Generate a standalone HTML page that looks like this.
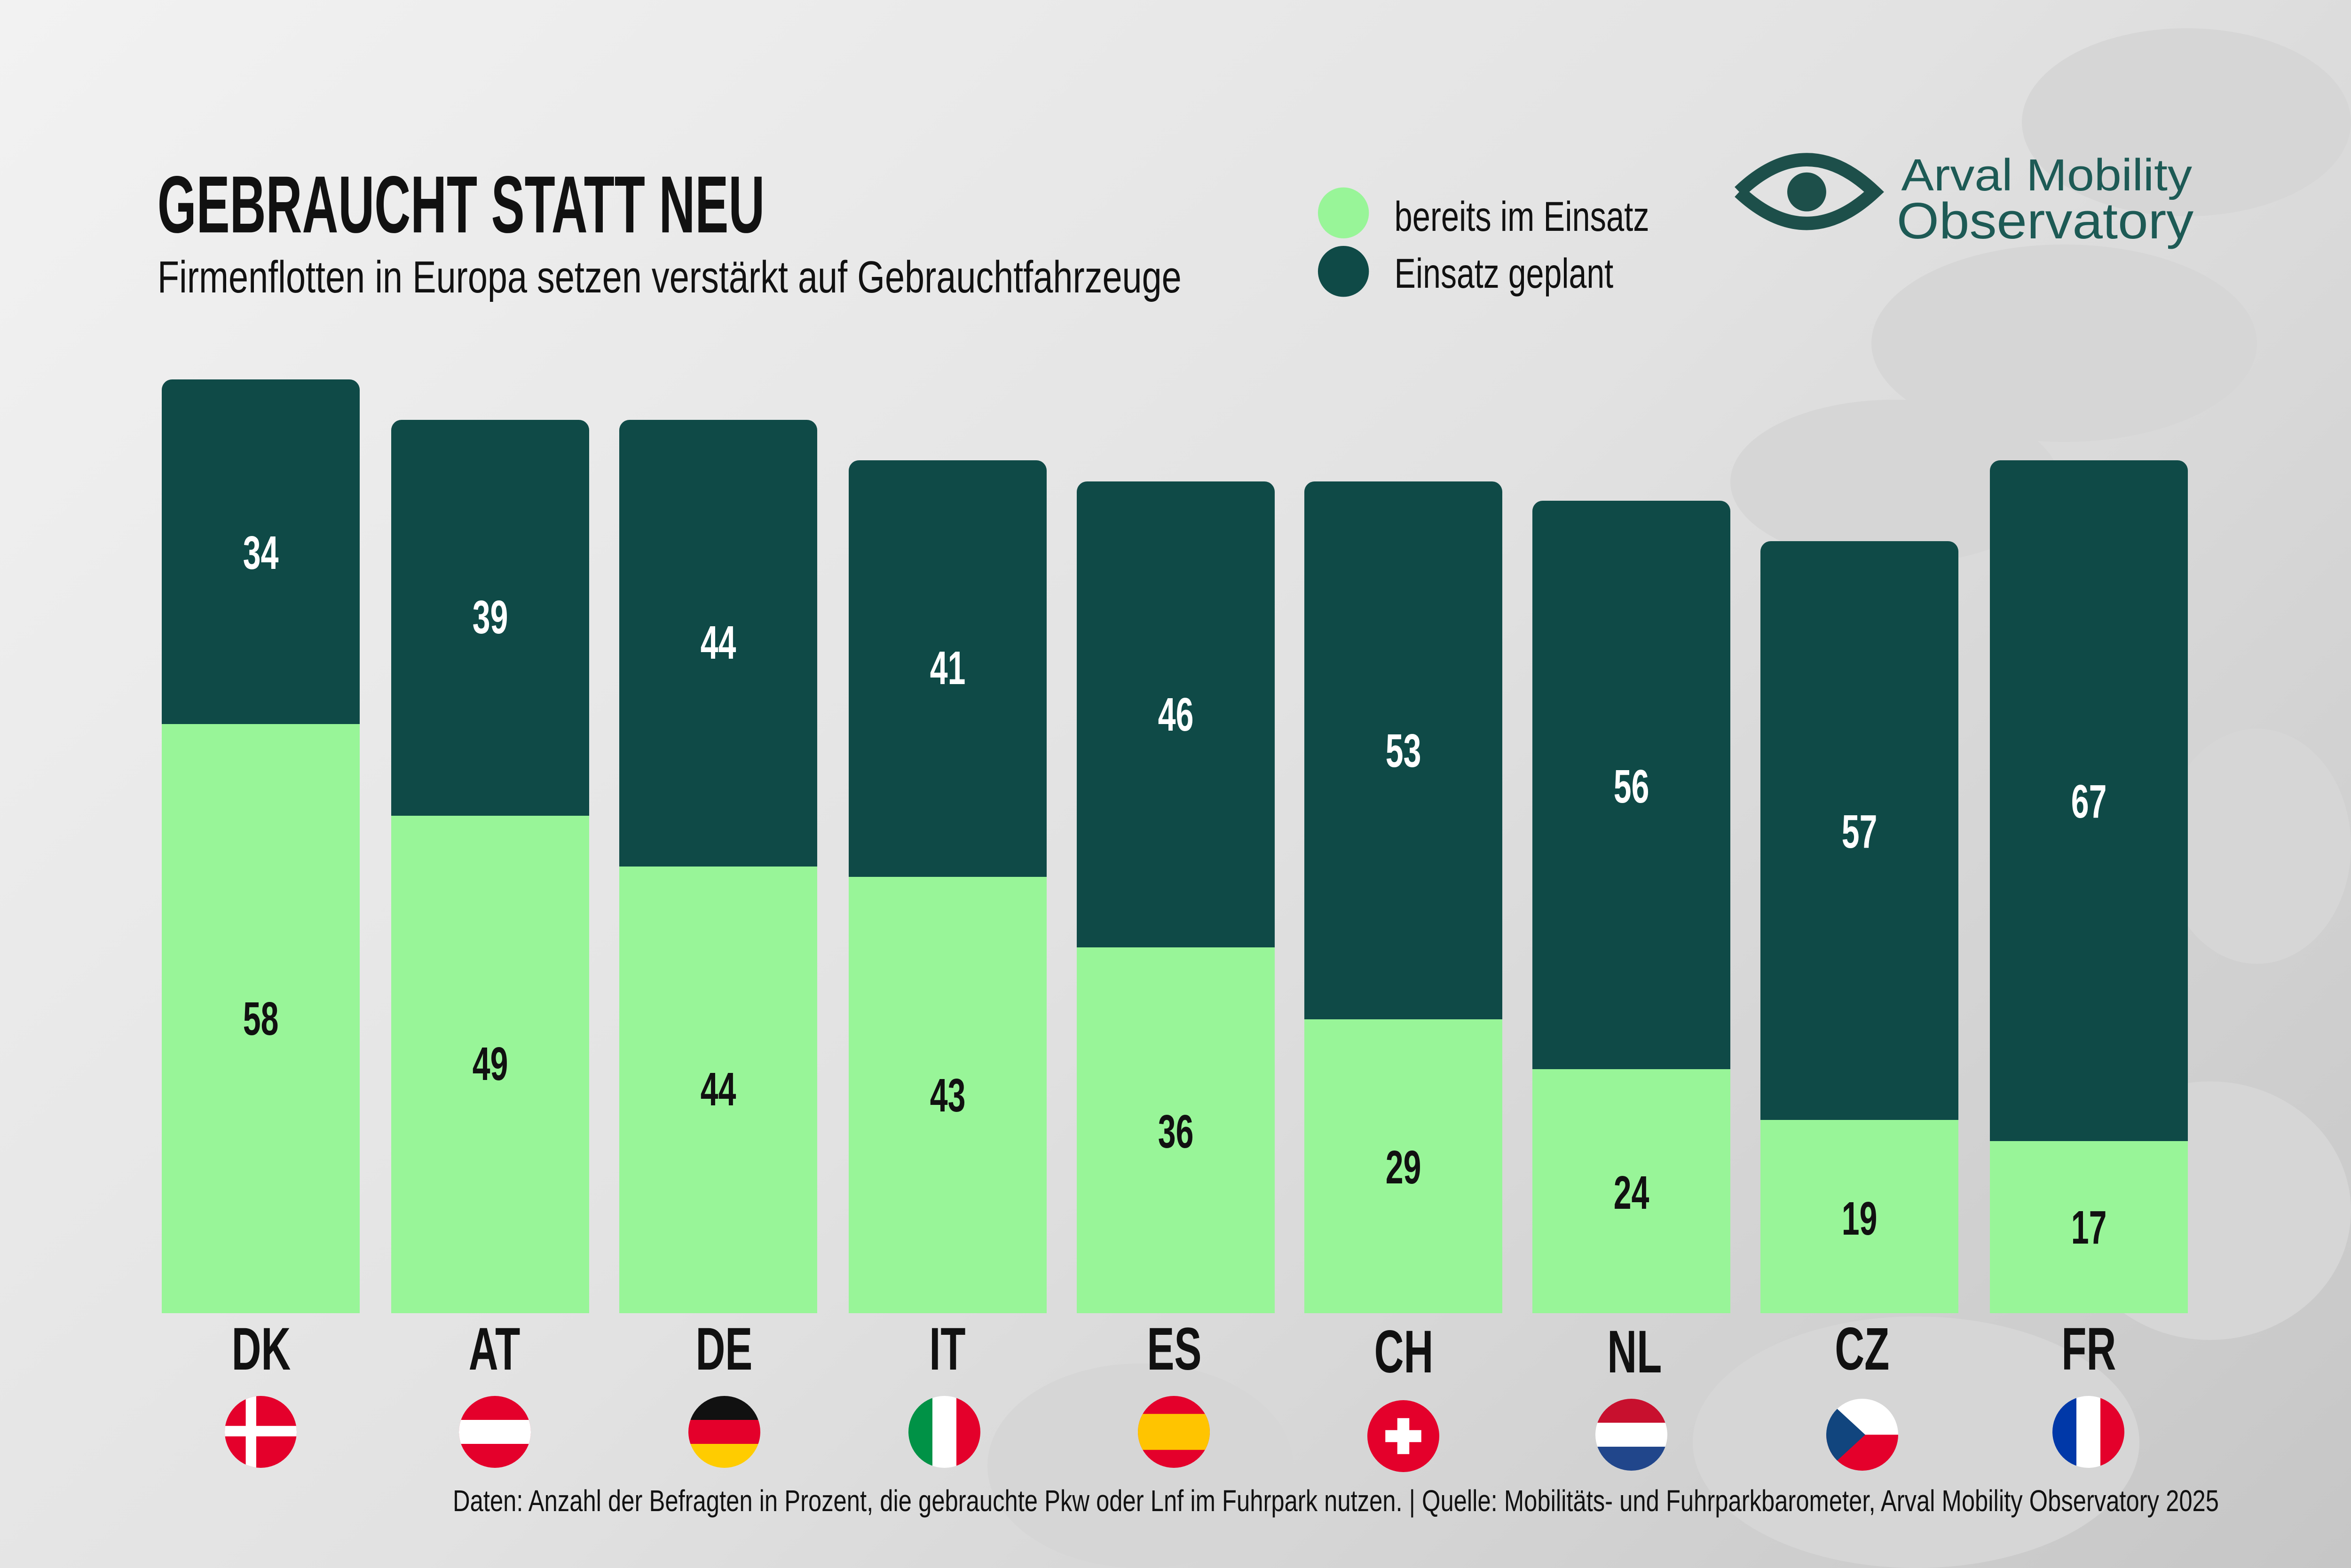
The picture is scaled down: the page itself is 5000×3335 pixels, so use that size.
<!DOCTYPE html>
<html><head><meta charset="utf-8"><style>
html,body{margin:0;padding:0;width:5000px;height:3335px;overflow:hidden}
body{position:relative;background:linear-gradient(135deg,#f2f2f2 0%,#e2e2e2 50%,#c6c6c6 100%)}
svg{display:block}
text{font-family:"Liberation Sans Narrow","Liberation Sans",sans-serif}
.e{position:absolute;background:#d6d6d6;border-radius:50%}
.d{position:absolute;background:#0f4a47;border-radius:22px 22px 0 0;width:421px}
.g{position:absolute;background:#98f598;width:421px}
.v{position:absolute;width:421px;text-align:center;font:bold 100px/1 "Liberation Sans Narrow","Liberation Sans",sans-serif}
.v span,.lab span{display:inline-block;transform:scaleX(.68)}
.w{color:#fff}.k{color:#111}
.lab{position:absolute;top:2806px;width:400px;text-align:center;font:bold 128px/1 "Liberation Sans Narrow","Liberation Sans",sans-serif;color:#111}
.fl{position:absolute;top:2969px;width:153px;height:153px}
</style></head><body>
<div class="e" style="left:4300px;top:60px;width:700px;height:400px"></div>
<div class="e" style="left:3980px;top:520px;width:820px;height:420px"></div>
<div class="e" style="left:3680px;top:850px;width:700px;height:350px"></div>
<div class="e" style="left:4600px;top:1550px;width:400px;height:500px"></div>
<div class="e" style="left:4400px;top:2300px;width:600px;height:550px"></div>
<div class="e" style="left:2100px;top:2900px;width:650px;height:435px"></div>
<div class="e" style="left:3600px;top:2800px;width:950px;height:535px"></div>

<svg style="position:absolute;left:0;top:0" width="5000" height="700" viewBox="0 0 1568 219.52">
<text x="105" y="155" font-size="54" font-weight="bold" fill="#111" textLength="405" lengthAdjust="spacingAndGlyphs">GEBRAUCHT STATT NEU</text>
<text x="105" y="195" font-size="30" fill="#111" textLength="683" lengthAdjust="spacingAndGlyphs">Firmenflotten in Europa setzen verstärkt auf Gebrauchtfahrzeuge</text>
<circle cx="896" cy="142" r="17" fill="#98f598"/>
<circle cx="896" cy="181" r="17" fill="#0f4a47"/>
<text x="930" y="154" font-size="28" fill="#111" textLength="170" lengthAdjust="spacingAndGlyphs">bereits im Einsatz</text>
<text x="930" y="192" font-size="28" fill="#111" textLength="146" lengthAdjust="spacingAndGlyphs">Einsatz geplant</text>
<path d="M1160 128 Q1205 85 1250 128 Q1205 170 1160 128" fill="none" stroke="#1d4f4a" stroke-width="9"/>
<circle cx="1205" cy="128" r="13" fill="#1d4f4a"/>
<text x="1268" y="127" font-size="30" fill="#1d5a55" font-family="Liberation Sans" textLength="194" lengthAdjust="spacingAndGlyphs">Arval Mobility</text>
<text x="1265" y="159" font-size="34" fill="#1d5a55" font-family="Liberation Sans" textLength="198" lengthAdjust="spacingAndGlyphs">Observatory</text>
</svg>

<div class="d" style="left:344px;top:807px;height:760px"></div><div class="g" style="left:344px;top:1540px;height:1253px"></div>
<div class="d" style="left:832px;top:893px;height:870px"></div><div class="g" style="left:832px;top:1735px;height:1058px"></div>
<div class="d" style="left:1317px;top:893px;height:970px"></div><div class="g" style="left:1317px;top:1843px;height:950px"></div>
<div class="d" style="left:1805px;top:979px;height:910px"></div><div class="g" style="left:1805px;top:1865px;height:928px"></div>
<div class="d" style="left:2290px;top:1024px;height:1010px"></div><div class="g" style="left:2290px;top:2015px;height:778px"></div>
<div class="d" style="left:2774px;top:1024px;height:1160px"></div><div class="g" style="left:2774px;top:2168px;height:625px"></div>
<div class="d" style="left:3259px;top:1065px;height:1230px"></div><div class="g" style="left:3259px;top:2274px;height:519px"></div>
<div class="d" style="left:3744px;top:1151px;height:1250px"></div><div class="g" style="left:3744px;top:2382px;height:411px"></div>
<div class="d" style="left:4232px;top:979px;height:1470px"></div><div class="g" style="left:4232px;top:2427px;height:366px"></div>

<div class="v w" style="left:344px;top:1126px"><span>34</span></div>
<div class="v w" style="left:832px;top:1263px"><span>39</span></div>
<div class="v w" style="left:1317px;top:1317px"><span>44</span></div>
<div class="v w" style="left:1805px;top:1371px"><span>41</span></div>
<div class="v w" style="left:2290px;top:1470px"><span>46</span></div>
<div class="v w" style="left:2774px;top:1547px"><span>53</span></div>
<div class="v w" style="left:3259px;top:1623px"><span>56</span></div>
<div class="v w" style="left:3744px;top:1719px"><span>57</span></div>
<div class="v w" style="left:4232px;top:1655px"><span>67</span></div>
<div class="v k" style="left:344px;top:2117px"><span>58</span></div>
<div class="v k" style="left:832px;top:2213px"><span>49</span></div>
<div class="v k" style="left:1317px;top:2267px"><span>44</span></div>
<div class="v k" style="left:1805px;top:2280px"><span>43</span></div>
<div class="v k" style="left:2290px;top:2357px"><span>36</span></div>
<div class="v k" style="left:2774px;top:2433px"><span>29</span></div>
<div class="v k" style="left:3259px;top:2487px"><span>24</span></div>
<div class="v k" style="left:3744px;top:2542px"><span>19</span></div>
<div class="v k" style="left:4232px;top:2561px"><span>17</span></div>

<div class="lab" style="left:355px"><span>DK</span></div>
<div class="lab" style="left:852px"><span>AT</span></div>
<div class="lab" style="left:1340px"><span>DE</span></div>
<div class="lab" style="left:1815px"><span>IT</span></div>
<div class="lab" style="left:2297px"><span>ES</span></div>
<div class="lab" style="left:2785px;top:2812px"><span>CH</span></div>
<div class="lab" style="left:3276px;top:2812px"><span>NL</span></div>
<div class="lab" style="left:3760px"><span>CZ</span></div>
<div class="lab" style="left:4242px"><span>FR</span></div>

<svg class="fl" style="left:478px" viewBox="0 0 48 48"><clipPath id="f1"><circle cx="24" cy="24" r="24"/></clipPath><g clip-path="url(#f1)"><rect width="48" height="48" fill="#e4002b"/><rect x="14" width="7" height="48" fill="#fff"/><rect y="20" width="48" height="7" fill="#fff"/></g></svg>
<svg class="fl" style="left:976px" viewBox="0 0 48 48"><clipPath id="f2"><circle cx="24" cy="24" r="24"/></clipPath><g clip-path="url(#f2)"><rect width="48" height="48" fill="#e4002b"/><rect y="16" width="48" height="16" fill="#fff"/></g></svg>
<svg class="fl" style="left:1464px" viewBox="0 0 48 48"><clipPath id="f3"><circle cx="24" cy="24" r="24"/></clipPath><g clip-path="url(#f3)"><rect width="48" height="16" fill="#111"/><rect y="16" width="48" height="16" fill="#e4002b"/><rect y="32" width="48" height="16" fill="#ffcc00"/></g></svg>
<svg class="fl" style="left:1932px" viewBox="0 0 48 48"><clipPath id="f4"><circle cx="24" cy="24" r="24"/></clipPath><g clip-path="url(#f4)"><rect width="16" height="48" fill="#009246"/><rect x="16" width="16" height="48" fill="#fff"/><rect x="32" width="16" height="48" fill="#e4002b"/></g></svg>
<svg class="fl" style="left:2420px" viewBox="0 0 48 48"><clipPath id="f5"><circle cx="24" cy="24" r="24"/></clipPath><g clip-path="url(#f5)"><rect width="48" height="48" fill="#e4002b"/><rect y="12" width="48" height="24" fill="#ffc400"/></g></svg>
<svg class="fl" style="left:2908px;top:2978px" viewBox="0 0 48 48"><circle cx="24" cy="24" r="24" fill="#e4002b"/><rect x="20" y="12" width="8" height="24" fill="#fff"/><rect x="12" y="20" width="24" height="8" fill="#fff"/></svg>
<svg class="fl" style="left:3393px;top:2975px" viewBox="0 0 48 48"><clipPath id="f7"><circle cx="24" cy="24" r="24"/></clipPath><g clip-path="url(#f7)"><rect width="48" height="16" fill="#c8102e"/><rect y="16" width="48" height="16" fill="#fff"/><rect y="32" width="48" height="16" fill="#21468b"/></g></svg>
<svg class="fl" style="left:3884px;top:2975px" viewBox="0 0 48 48"><clipPath id="f8"><circle cx="24" cy="24" r="24"/></clipPath><g clip-path="url(#f8)"><rect width="48" height="24" fill="#fff"/><rect y="24" width="48" height="24" fill="#e4002b"/><polygon points="0,0 26,24 0,48" fill="#11457e"/></g></svg>
<svg class="fl" style="left:4365px" viewBox="0 0 48 48"><clipPath id="f9"><circle cx="24" cy="24" r="24"/></clipPath><g clip-path="url(#f9)"><rect width="16" height="48" fill="#0038a8"/><rect x="16" width="16" height="48" fill="#fff"/><rect x="32" width="16" height="48" fill="#e4002b"/></g></svg>

<svg style="position:absolute;left:950px;top:3140px" width="3800" height="100" viewBox="0 0 3800 100"><text x="13" y="74" font-size="64" fill="#111" textLength="3756" lengthAdjust="spacingAndGlyphs">Daten: Anzahl der Befragten in Prozent, die gebrauchte Pkw oder Lnf im Fuhrpark nutzen. | Quelle: Mobilitäts- und Fuhrparkbarometer, Arval Mobility Observatory 2025</text></svg>
</body></html>
